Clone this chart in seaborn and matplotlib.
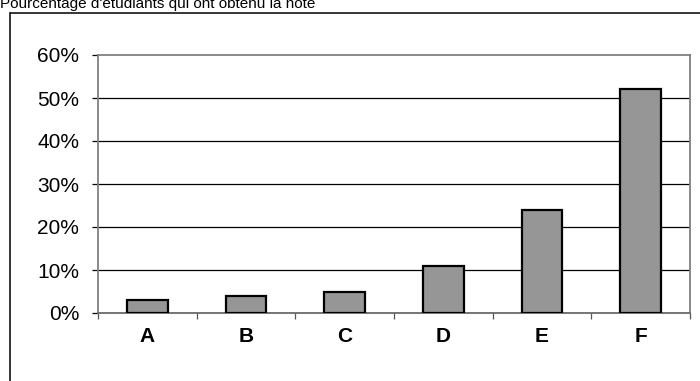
import matplotlib
matplotlib.use("Agg")
import matplotlib.pyplot as plt
from matplotlib.lines import Line2D
from matplotlib.ticker import FuncFormatter, FixedLocator
import seaborn as sns
import pandas as pd

# Grade distribution (share of students per grade)
grades = ["A", "B", "C", "D", "E", "F"]
shares = [0.03, 0.04, 0.05, 0.11, 0.24, 0.52]
y_ticks = [0.0, 0.1, 0.2, 0.3, 0.4, 0.5, 0.6]
title = "Pourcentage d'étudiants qui ont obtenu la note"

sns.set_theme(style="white")
plt.rcParams["font.family"] = ["Liberation Sans", "DejaVu Sans"]

df = pd.DataFrame({"note": grades, "part": shares})

fig = plt.figure(figsize=(7.0, 3.81), dpi=100)
W, H = 700, 381
ax = fig.add_axes([98 / W, 1 - 313 / H, (690 - 98) / W, (313 - 55) / H])

sns.barplot(data=df, x="note", y="part", color="#969696", saturation=1,
            edgecolor="black", linewidth=1.6, width=0.41, ax=ax, zorder=3)

ax.set_ylim(0, 0.6)
ax.set_xlim(-0.5, len(grades) - 0.5)
ax.yaxis.set_major_locator(FixedLocator(y_ticks))
ax.yaxis.set_major_formatter(FuncFormatter(lambda v, _: f"{v * 100:.0f}%"))

# horizontal grid lines
for v in y_ticks[1:-1]:
    ax.axhline(v, color="black", linewidth=0.9, zorder=1)

for side in ["left", "bottom", "right", "top"]:
    ax.spines[side].set_visible(True)
    ax.spines[side].set_color("#808080")
    ax.spines[side].set_linewidth(1.3)
ax.spines["bottom"].set_color("#6a6a6a")

ax.tick_params(axis="y", which="major", direction="out", length=4.5, width=0.9,
               color="black", pad=9, labelsize=15, labelcolor="black", left=True)
# x labels centred on bars, tick marks on category boundaries
ax.tick_params(axis="x", which="major", length=0, pad=10, labelsize=15,
               labelcolor="black")
ax.set_xticks(range(len(grades)))
ax.set_xticklabels(grades, fontweight="bold")
ax.xaxis.set_minor_locator(FixedLocator([i - 0.5 for i in range(len(grades) + 1)]))
ax.tick_params(axis="x", which="minor", direction="out", length=4, width=0.9,
               color="#555555", bottom=True)
ax.set_xlabel("")
ax.set_ylabel("")

# outer chart frame (top and left edges)
fig.add_artist(Line2D([10 / W, 1.0], [1 - 13 / H, 1 - 13 / H],
                      transform=fig.transFigure, color="black", linewidth=1.1))
fig.add_artist(Line2D([10 / W, 10 / W], [0.0, 1 - 13 / H],
                      transform=fig.transFigure, color="black", linewidth=1.1))

fig.text(0.0, 1 - 8.3 / H, title, ha="left", va="baseline", fontsize=11,
         color="black")

fig.savefig("out.png", dpi=100)
